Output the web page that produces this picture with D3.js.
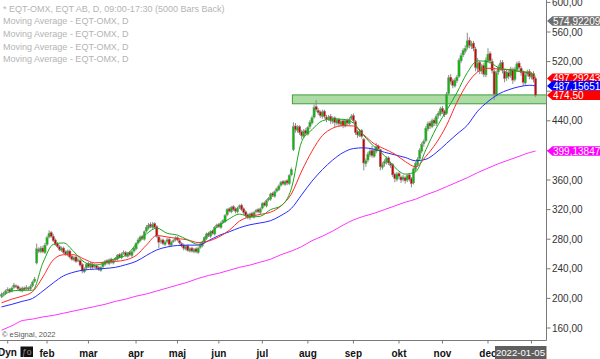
<!DOCTYPE html>
<html><head><meta charset="utf-8">
<script src="https://cdn.jsdelivr.net/npm/d3@7/dist/d3.min.js"></script>
<style>body{margin:0;background:#fff}svg{display:block;font-family:Arial,"Liberation Sans",sans-serif}</style>
</head><body><svg id="c" width="600" height="359"></svg>
<script>
// ---------- data ----------
const startDate = "2020-12-28";
const holidays = ["2020-12-31","2021-01-01","2021-01-06","2021-04-02","2021-04-05","2021-05-13","2021-06-25","2021-12-24","2021-12-31"];
const monthNames = ["jan","feb","mar","apr","maj","jun","jul","aug","sep","okt","nov","dec"];
const opens = [203,206,207,211,212,210,215,217,216,213,
210,214,213,214,213,217,223,248,266,263,
268,262,273,283,289,284,279,274,270,265,
268,263,259,264,257,252,256,251,251,246,
236,241,247,242,246,243,244,242,238,243,
246,251,247,253,248,252,253,259,255,261,
262,257,262,258,264,267,275,278,284,280,
291,295,300,296,301,297,283,277,279,273,
277,280,272,277,279,282,278,274,272,267,
271,264,268,263,267,262,269,271,276,281,
288,284,291,287,297,300,296,303,304,313,
321,317,324,321,317,323,326,321,317,313,
309,315,310,317,320,316,322,329,325,333,
334,342,338,345,347,353,358,354,359,355,
367,401,433,427,432,425,419,427,422,432,
437,445,459,454,452,446,453,445,443,446,
439,444,437,442,435,440,433,441,436,443,
447,439,425,420,427,415,382,387,394,400,
392,399,406,401,377,382,384,390,382,381,
368,361,369,364,361,363,360,367,362,356,
374,381,389,399,409,413,429,437,432,441,
436,447,449,457,453,450,477,499,494,487,
494,500,521,529,534,539,549,541,545,537,
511,519,507,515,502,521,531,520,507,475,
506,511,519,507,498,505,501,509,496,509,
518,511,506,491,503,507,499,504,497];
const highs = [208,209,212,215,214,216,221,219,218,215,
216,216,218,216,219,224,229,274,269,271,
271,275,285,292,291,287,281,276,272,270,
270,265,266,266,259,257,258,254,253,248,
242,248,249,249,248,247,246,244,244,249,
252,253,254,255,253,256,260,261,262,265,
264,263,264,265,270,276,282,285,286,292,
299,302,303,303,303,299,285,281,281,278,
282,282,278,280,284,284,280,276,274,272,
273,269,270,268,269,270,274,277,284,289,
290,292,293,298,301,302,304,307,314,322,
323,325,326,323,324,327,328,323,319,315,
316,317,318,321,322,323,330,331,334,337,
343,344,346,350,354,359,360,360,361,368,
377,438,437,434,434,428,429,430,433,441,
447,462,468,457,454,455,455,448,448,449,
446,446,444,444,441,442,442,443,445,449,
450,441,428,429,429,417,389,398,403,406,
403,410,408,402,384,388,392,392,385,383,
370,371,371,366,367,365,368,369,364,377,
385,391,403,411,415,433,439,440,443,444,
449,453,459,460,455,479,502,503,497,498,
502,525,532,538,542,559,553,548,548,540,
525,521,517,518,526,538,534,524,512,508,
516,522,522,510,509,508,513,512,513,520,
521,514,508,505,509,510,506,507,499];
const lows = [201,204,205,209,207,208,213,214,211,209,
208,210,211,211,211,215,221,246,261,261,
261,260,271,281,282,276,271,268,264,263,
260,258,257,254,251,250,248,249,243,234,
234,239,241,240,240,241,239,237,236,241,
244,246,245,247,246,250,251,254,253,259,
256,255,257,256,262,265,273,276,279,278,
289,293,295,294,294,282,268,274,272,271,
275,271,270,275,277,277,273,269,265,265,
263,262,262,261,261,260,267,269,274,279,
283,282,286,285,295,295,294,301,302,311,
316,315,318,315,315,321,318,313,309,307,
306,309,308,315,315,314,320,324,323,331,
332,337,336,343,345,351,353,352,353,353,
365,399,424,424,421,415,417,420,420,429,
435,443,452,448,444,443,443,438,440,436,
436,431,434,432,432,430,431,434,434,441,
437,421,417,418,416,373,378,384,391,390,
390,396,399,373,374,378,381,380,376,364,
357,358,361,356,358,355,357,358,350,354,
371,378,386,396,405,411,426,429,430,433,
433,443,446,449,445,448,475,489,484,485,
491,498,518,526,531,536,538,537,534,507,
506,503,503,499,499,518,517,504,468,473,
502,508,504,492,494,496,498,490,493,506,
509,501,487,488,500,496,496,492,472];
const closes = [205,207,210,212,209,214,218,216,213,211,
214,212,215,213,216,222,226,267,264,268,
263,272,282,288,284,278,273,270,266,268,
262,260,264,256,253,255,250,252,245,237,
240,246,243,247,242,245,241,239,242,247,
250,248,252,249,251,254,258,256,260,262,
258,261,259,263,268,274,279,283,281,290,
296,299,297,300,296,284,276,278,274,276,
279,273,276,278,281,279,275,271,268,270,
265,267,264,266,263,268,272,275,282,287,
285,290,288,296,299,297,302,305,312,320,
318,323,320,318,322,325,320,316,312,310,
314,311,316,319,317,321,328,326,332,335,
341,339,344,348,352,357,355,358,356,366,
374,432,428,431,424,420,426,423,431,438,
444,458,455,451,447,452,446,442,445,440,
443,438,441,436,439,434,440,437,442,446,
440,424,421,426,419,383,386,395,399,393,
400,405,402,378,381,385,389,383,380,367,
362,368,365,360,364,359,366,361,355,375,
382,388,400,408,412,430,436,433,440,437,
446,450,456,452,448,476,498,493,488,495,
499,522,528,535,538,548,542,544,538,512,
518,508,514,503,522,530,521,508,476,505,
512,518,508,497,506,500,510,495,510,517,
512,505,492,502,506,500,503,496,474.5];

// moving averages, read every 5 bars (last point = last bar)
const maGreen = [201,210,211,211,248,273,275,263,249,245,248,254,258,273,287,295,288,285.5,279,273,287,298,307.5,314,310,311,320,325,348,412,428,440,442.5,442,437,420,405,393,377,368,371,401,430,454,478,505,521,520,512,509,507,505,500];
const maRed = [194,199,203,209,229,252,259,259,253,248,249,250,252,258,272,285,283,281,279,275.5,277.5,283,292,304.5,310.5,313.5,316.5,325,341,372,399,420,430,433.5,433,421,409,402,395,385,378,392,410,434,465,490,506,511,510,509,507,504,497.3];
const maBlue = [188.5,192,196,200,210,221,230.5,235.5,238.5,239.5,240.5,242,245.5,250,258,265.5,269.5,271.5,272,272,278,285,290,295.5,299.5,302,305,312,321.5,340,358.5,374,387,397,402.5,403.5,401.5,397.5,394,390.5,386,388,397,409.5,422,434,453,466,476,482,486,488,487.2];
const maMagenta = [157,163,170,172,175,177,180,183,186,189,192,196,199,203,206,210,214,218,222,227,231,234,238,242,245,249,253,259,264,270,278,284,291,299,306,311,315,320,325,330,334,340,345,351,357,363,370,376,382,387,392,397,399.1];
const maStep = 5;

const yTicks = [160,200,240,280,320,360,400,440,480,520,560,600];
const zoneRange = [463, 475];
const zoneStartDate = "2021-07-22";

const tagValues = ["574,922095","399,138472","497,292433","487,156519","474,50"];
const tagColors = ["#6f6f6f","#ff00ff","#ff0000","#0000ff","#ff0000"];

const legendLines = ["* EQT-OMX, EQT AB, D, 09:00-17:30 (5000 Bars Back)",
 "Moving Average - EQT-OMX, D","Moving Average - EQT-OMX, D","Moving Average - EQT-OMX, D","Moving Average - EQT-OMX, D"];
const lastDateLabel = "2022-01-05";
const copyright = "\u00A9 eSignal, 2022";

// ---------- build trading dates ----------
const hol = new Set(holidays);
const dates = [];
{ let d = new Date(startDate + "T00:00:00Z");
  while (dates.length < closes.length) {
    const dow = d.getUTCDay(), s = d.toISOString().slice(0,10);
    if (dow !== 0 && dow !== 6 && !hol.has(s)) dates.push(s);
    d.setUTCDate(d.getUTCDate() + 1);
  }
}
const n = closes.length;
const bars = d3.range(n).map(i => ({i, date: dates[i], o: opens[i], h: highs[i], l: lows[i], c: closes[i]}));

// ---------- layout ----------
const W = 600, H = 359, plotR = 546.5, plotB = 340.5;
const svg = d3.select("#c");
const x = d3.scaleLinear().domain([0, n - 1]).range([1.5, 535.6]);
const y = d3.scaleLinear().domain([160, 600]).range([328, 2.4]);

svg.append("defs").append("clipPath").attr("id","pc")
  .append("rect").attr("x",0).attr("y",0).attr("width",plotR).attr("height",plotB);

// legend
svg.append("g").selectAll("text").data(legendLines).join("text")
  .attr("x", 3).attr("y", (d,k) => 11.5 + k*12.7)
  .attr("font-size", 9).attr("fill", "#b4b4b4").text(d => d);

const plot = svg.append("g").attr("clip-path","url(#pc)");

// support zone
const zi = dates.indexOf(zoneStartDate);
plot.append("rect")
  .attr("x", x(zi) - 1).attr("y", y(zoneRange[1]))
  .attr("width", plotR - x(zi) + 1).attr("height", y(zoneRange[0]) - y(zoneRange[1]))
  .attr("fill", "#acdca4").attr("stroke", "#3f9f3f").attr("stroke-width", 1);

// candles
const cg = plot.append("g");
cg.selectAll("line").data(bars).join("line")
  .attr("x1", d => x(d.i)).attr("x2", d => x(d.i))
  .attr("y1", d => y(d.h)).attr("y2", d => y(d.l))
  .attr("stroke", "#8c8c8c").attr("stroke-width", 1);
cg.selectAll("rect").data(bars).join("rect")
  .attr("x", d => x(d.i) - 1.1).attr("width", 2.2)
  .attr("y", d => y(Math.max(d.o, d.c)))
  .attr("height", d => Math.max(1, Math.abs(y(d.o) - y(d.c))))
  .attr("fill", d => d.c >= d.o ? "#00c000" : "#d40000")
  .attr("stroke", "#8c8c8c").attr("stroke-width", 0.5);

// moving averages
const maIdx = k => Math.min(k * maStep, n - 1);
const line = d3.line().x((d,k) => x(maIdx(k))).y(d => y(d)).curve(d3.curveMonotoneX);
[[maMagenta,"#ff33ff"],[maBlue,"#2a2aff"],[maRed,"#ff2a2a"],[maGreen,"#1aa81a"]].forEach(([arr,col]) => {
  plot.append("path").datum(arr).attr("d", line).attr("fill","none")
    .attr("stroke", col).attr("stroke-width", 1);
});

// frame
svg.append("line").attr("x1", plotR).attr("x2", plotR).attr("y1", 0).attr("y2", plotB)
  .attr("stroke", "#7a7a7a");
svg.append("line").attr("x1", 0).attr("x2", plotR).attr("y1", plotB).attr("y2", plotB)
  .attr("stroke", "#7a7a7a");

// y axis (labels hidden where a price tag covers them)
const tagNum = s => +s.replace(",", ".");
const tagYs = tagValues.map(s => y(tagNum(s)));
const fmt = d3.formatLocale({decimal: ",", thousands: "\u00a0", grouping: [3], currency: ["", ""]}).format(".2f");
const ya = svg.append("g");
ya.selectAll("line").data(yTicks).join("line")
  .attr("x1", plotR).attr("x2", plotR + 4).attr("y1", d => y(d)).attr("y2", d => y(d))
  .attr("stroke", "#7a7a7a");
ya.selectAll("text").data(yTicks.filter(v => tagYs.every(t => Math.abs(t - y(v)) > 8))).join("text")
  .attr("x", plotR + 5.5).attr("y", d => y(d)).attr("dy", "0.35em")
  .attr("font-size", 10).attr("fill", "#333").text(d => fmt(d));

// price tags
const tg = svg.append("g");
tagValues.forEach((s, k) => {
  const yy = tagYs[k], h = 4.8;
  tg.append("path")
    .attr("d", `M${plotR+0.5},${yy} L${plotR+6},${yy-h} L${W},${yy-h} L${W},${yy+h} L${plotR+6},${yy+h} Z`)
    .attr("fill", tagColors[k]);
  tg.append("text").attr("x", plotR + 6.5).attr("y", yy).attr("dy", "0.36em")
    .attr("font-size", 10).attr("fill", "#fff").text(s);
});

// x axis month ticks
const monthStarts = bars.filter((d, k) => k > 0 && d.date.slice(5,7) !== bars[k-1].date.slice(5,7));
const xa = svg.append("g");
xa.selectAll("line").data(monthStarts).join("line")
  .attr("x1", d => x(d.i)).attr("x2", d => x(d.i)).attr("y1", plotB).attr("y2", plotB + 3)
  .attr("stroke", "#7a7a7a");
xa.selectAll("text").data(monthStarts.filter(d => d.date.slice(0,4) === "2021" && x(d.i) > 30)).join("text")
  .attr("x", d => x(d.i)).attr("y", 356.5).attr("text-anchor", "middle")
  .attr("font-size", 10).attr("font-weight", "bold").attr("fill", "#111")
  .text(d => monthNames[+d.date.slice(5,7) - 1]);

// date box
svg.append("rect").attr("x", 495).attr("y", 346).attr("width", plotR - 495).attr("height", 13).attr("fill", "#5f5f5f");
svg.append("text").attr("x", 520.5).attr("y", 356).attr("text-anchor", "middle")
  .attr("font-size", 9.6).attr("fill", "#fff").text(lastDateLabel);

// bottom-left
svg.append("text").attr("x", 2).attr("y", 337).attr("font-size", 7.5).attr("fill", "#555").text(copyright);
svg.append("text").attr("x", -2).attr("y", 356).attr("font-size", 10).attr("font-weight", "bold").attr("fill", "#111").text("Dyn");
svg.append("rect").attr("x", 20.5).attr("y", 346.5).attr("width", 12.5).attr("height", 10.5).attr("fill", "#111");
svg.append("text").attr("x", 26.7).attr("y", 355).attr("text-anchor","middle").attr("font-size", 8.5).attr("fill", "#999").text("\u0192o");
</script></body></html>
